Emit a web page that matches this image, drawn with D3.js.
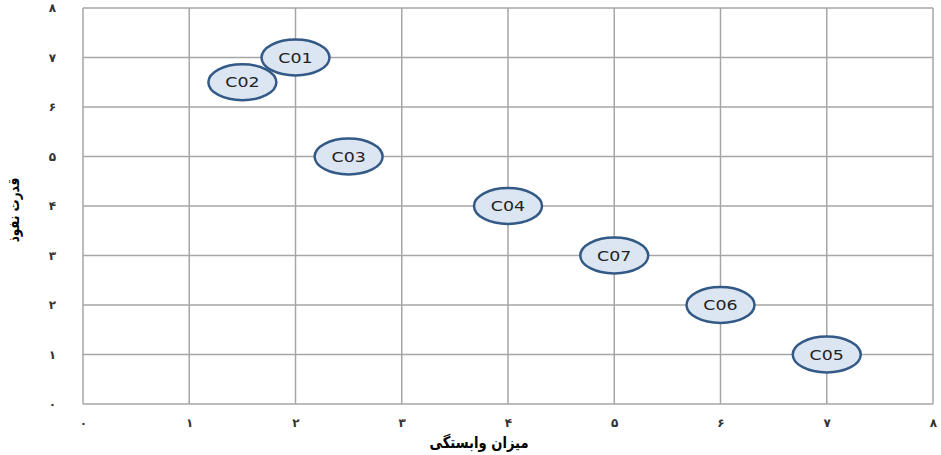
<!DOCTYPE html>
<html><head><meta charset="utf-8">
<script src="https://cdn.jsdelivr.net/npm/d3@7"></script>
<style>body{margin:0;background:#fff}svg{display:block}</style>
</head><body>
<script>
const labels = ["C01","C02","C03","C04","C07","C06","C05"];
const xVals  = [2, 1.5, 2.5, 4, 5, 6, 7];
const yVals  = [7, 6.5, 5, 4, 3, 2, 1];
const tickVals = [0,1,2,3,4,5,6,7,8];
const tickLabels = ["۰","۱","۲","۳","۴","۵","۶","۷","۸"];
const xTitle = "میزان وابستگی";
const yTitle = "قدرت نفوذ";

const W = 941, H = 455;
const m = {left:83, right:8, top:8, bottom:51};
const svg = d3.select("body").append("svg").attr("width",W).attr("height",H);
const x = d3.scaleLinear().domain([0,8]).range([m.left, W-m.right]);
const y = d3.scaleLinear().domain([0,8]).range([H-m.bottom, m.top]);

const g = svg.append("g");
g.selectAll(".vg").data(tickVals).join("line")
  .attr("x1",d=>x(d)).attr("x2",d=>x(d)).attr("y1",y(0)).attr("y2",y(8))
  .attr("stroke","#a6a6a6").attr("stroke-width",1.5);
g.selectAll(".hg").data(tickVals).join("line")
  .attr("y1",d=>y(d)).attr("y2",d=>y(d)).attr("x1",x(0)).attr("x2",x(8))
  .attr("stroke","#a6a6a6").attr("stroke-width",1.5);

const xAxis = d3.axisBottom(x).tickValues(tickVals).tickFormat((d,i)=>tickLabels[i]).tickSize(0).tickPadding(14);
const gx = svg.append("g").attr("transform",`translate(0,${y(0)})`).call(xAxis);
const yAxis = d3.axisLeft(y).tickValues(tickVals).tickFormat((d,i)=>tickLabels[i]).tickSize(0).tickPadding(27);
const gy = svg.append("g").attr("transform",`translate(${x(0)},0)`).call(yAxis);
[gx,gy].forEach(a=>{
  a.select(".domain").remove();
  a.selectAll("text").attr("font-family","DejaVu Sans, Noto Sans").attr("font-size",12)
    .attr("font-weight","bold").attr("fill","#333");
});

svg.append("text").attr("transform","translate(479,448) scale(0.82,1)").attr("text-anchor","middle")
  .attr("font-family","DejaVu Sans, Noto Sans").attr("font-weight","bold").attr("font-size",16)
  .attr("fill","#000").attr("direction","rtl").text(xTitle);
svg.append("text").attr("transform",`translate(19,210) rotate(-90) scale(0.8,1)`).attr("text-anchor","middle")
  .attr("font-family","DejaVu Sans, Noto Sans").attr("font-weight","bold").attr("font-size",15)
  .attr("fill","#000").attr("direction","rtl").text(yTitle);

const pts = labels.map((l,i)=>({l, x:xVals[i], y:yVals[i]}));
const pg = svg.append("g");
pg.selectAll("ellipse").data(pts).join("ellipse")
  .attr("cx",d=>x(d.x)).attr("cy",d=>y(d.y)).attr("rx",34).attr("ry",18)
  .attr("fill","#dce6f2").attr("stroke","#335a87").attr("stroke-width",2.5);
pg.selectAll("text").data(pts).join("text")
  .attr("transform",d=>`translate(${x(d.x)},${y(d.y)}) scale(1.2,1)`)
  .attr("dy","0.36em").attr("text-anchor","middle")
  .attr("font-family","DejaVu Sans, Verdana").attr("font-size",14.5).attr("fill","#222").text(d=>d.l);
</script>
</body></html>
